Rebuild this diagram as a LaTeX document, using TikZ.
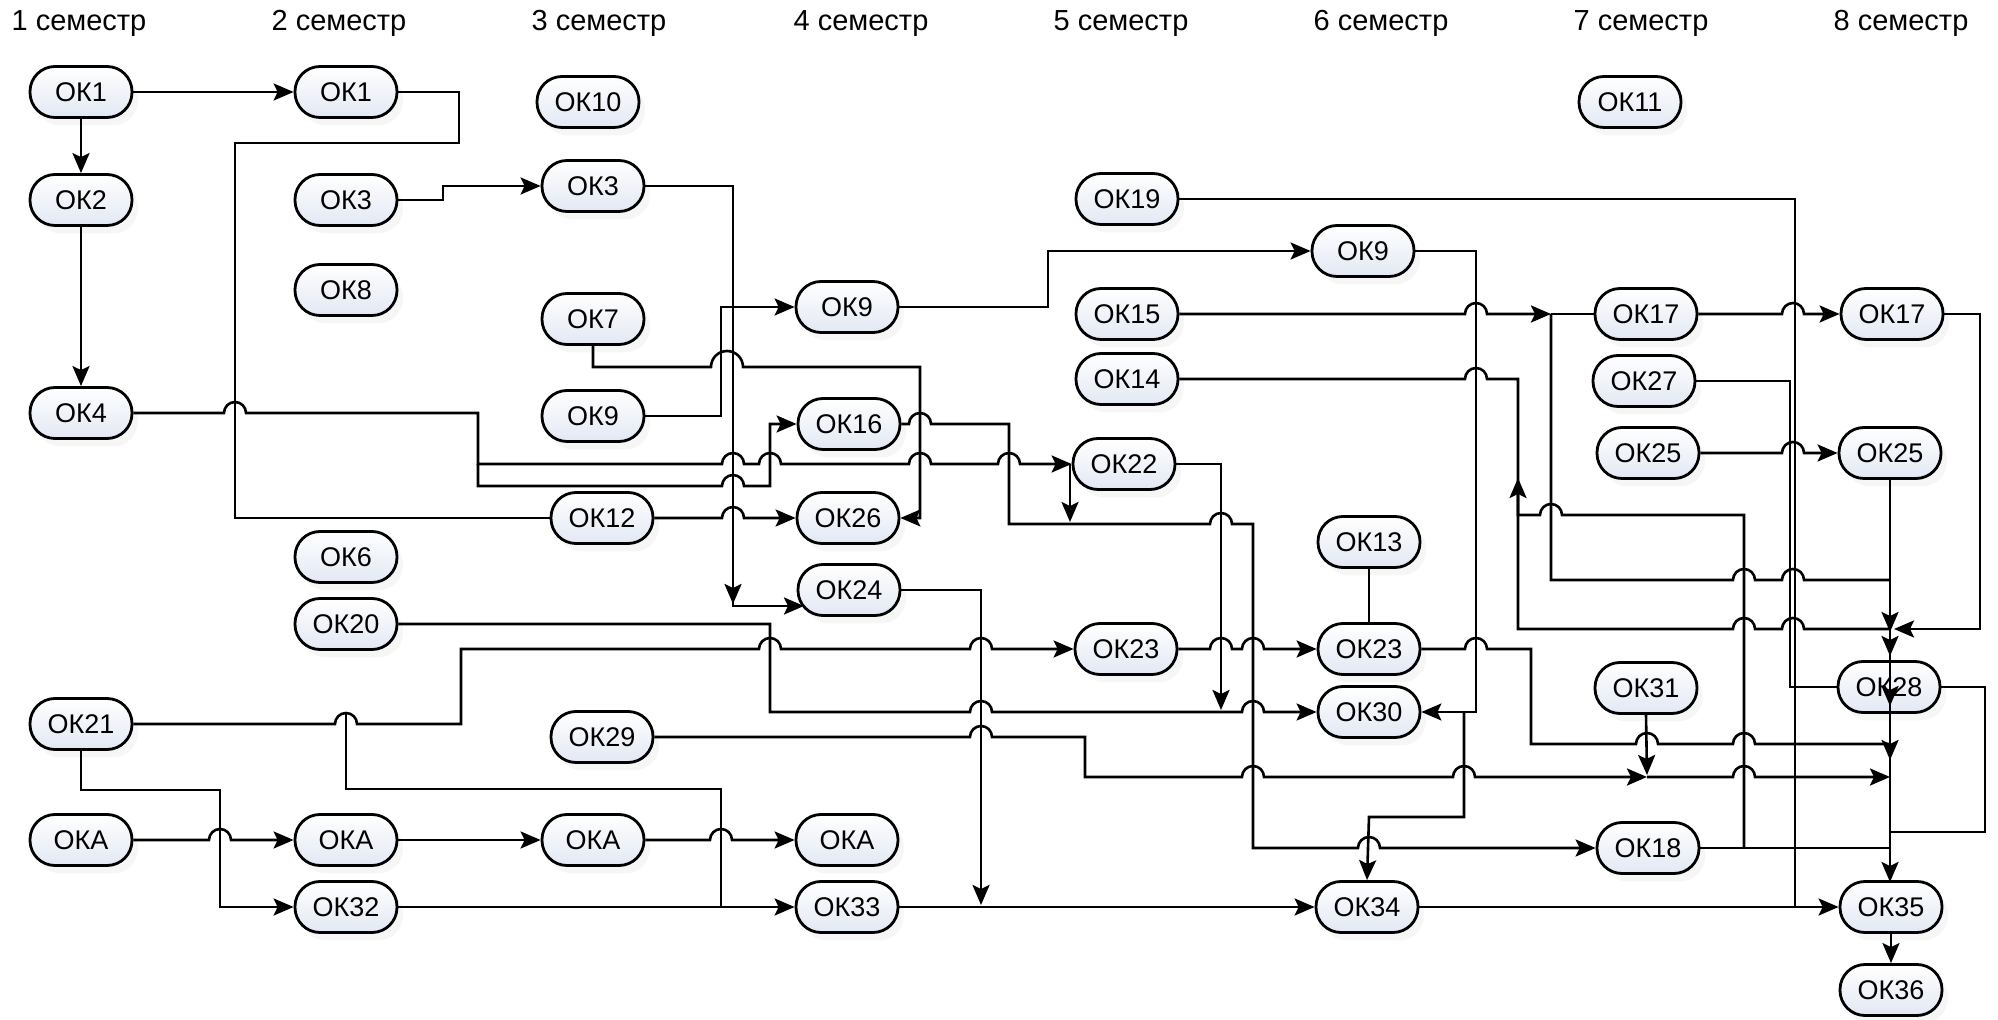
\documentclass[tikz,border=0pt]{standalone}
\usepackage{fontspec}
\setmainfont{Liberation Sans}
\usetikzlibrary{arrows.meta,shadows}
\definecolor{nodeblue}{RGB}{226,232,243}
\begin{document}
\begin{tikzpicture}[x=0.5pt,y=-0.5pt,
  ok/.style={draw=black,line width=1.4pt,rounded corners=12.5pt,minimum width=51pt,minimum height=25.5pt,inner sep=0pt,
    top color=white,bottom color=nodeblue,font=\fontsize{13.5}{14}\selectfont,
    drop shadow={opacity=0.07,shadow xshift=3pt,shadow yshift=-4pt}},
  sem/.style={anchor=base,font=\fontsize{14.5}{16}\selectfont},
  ln/.style={line width=1.3pt},
  arr/.style={-{Stealth[length=10pt,width=8.5pt,inset=2pt]}},
  rarr/.style={{Stealth[length=10pt,width=8.5pt,inset=2pt]}-},
  hop/.style args={#1/#2}{insert path={-- ({#1-11},#2) arc[start angle=180,end angle=360,radius=11]}},
  hopw/.style args={#1/#2}{insert path={-- ({#1-16},#2) arc[start angle=180,end angle=360,radius=16]}}]
\fill[white] (0,0) rectangle (1998,1020);
\useasboundingbox (0,0) rectangle (1998,1020);
% headings
\node[sem] (s1) at (79,31) {1 семестр};
\node[sem] (s2) at (339,31) {2 семестр};
\node[sem] (s3) at (599,31) {3 семестр};
\node[sem] (s4) at (861,31) {4 семестр};
\node[sem] (s5) at (1121,31) {5 семестр};
\node[sem] (s6) at (1381,31) {6 семестр};
\node[sem] (s7) at (1641,31) {7 семестр};
\node[sem] (s8) at (1901,31) {8 семестр};
% nodes
\node[ok] (a1) at (81,92) {ОК1};
\node[ok] (a2) at (81,200) {ОК2};
\node[ok] (a4) at (81,413) {ОК4};
\node[ok] (a21) at (81,724) {ОК21};
\node[ok] (aA) at (81,840) {ОКА};
\node[ok] (b1) at (346,92) {ОК1};
\node[ok] (b3) at (346,200) {ОК3};
\node[ok] (b8) at (346,290) {ОК8};
\node[ok] (b6) at (346,557) {ОК6};
\node[ok] (b20) at (346,624) {ОК20};
\node[ok] (bA) at (346,840) {ОКА};
\node[ok] (b32) at (346,907) {ОК32};
\node[ok] (c10) at (588,102) {ОК10};
\node[ok] (c3) at (593,186) {ОК3};
\node[ok] (c7) at (593,319) {ОК7};
\node[ok] (c9) at (593,416) {ОК9};
\node[ok] (c12) at (602,518) {ОК12};
\node[ok] (c29) at (602,737) {ОК29};
\node[ok] (cA) at (593,840) {ОКА};
\node[ok] (d9) at (847,307) {ОК9};
\node[ok] (d16) at (849,424) {ОК16};
\node[ok] (d26) at (848,518) {ОК26};
\node[ok] (d24) at (849,590) {ОК24};
\node[ok] (dA) at (847,840) {ОКА};
\node[ok] (d33) at (847,907) {ОК33};
\node[ok] (e19) at (1127,199) {ОК19};
\node[ok] (e15) at (1127,314) {ОК15};
\node[ok] (e14) at (1127,379) {ОК14};
\node[ok] (e22) at (1124,464) {ОК22};
\node[ok] (e23) at (1126,649) {ОК23};
\node[ok] (f9) at (1363,251) {ОК9};
\node[ok] (f13) at (1369,542) {ОК13};
\node[ok] (f23) at (1369,649) {ОК23};
\node[ok] (f30) at (1369,712) {ОК30};
\node[ok] (f34) at (1367,907) {ОК34};
\node[ok] (g11) at (1630,102) {ОК11};
\node[ok] (g17) at (1646,314) {ОК17};
\node[ok] (g27) at (1644,381) {ОК27};
\node[ok] (g25) at (1648,453) {ОК25};
\node[ok] (g31) at (1646,688) {ОК31};
\node[ok] (g18) at (1648,848) {ОК18};
\node[ok] (h17) at (1892,314) {ОК17};
\node[ok] (h25) at (1890,453) {ОК25};
\node[ok] (h28) at (1889,687) {ОК28};
\node[ok] (h35) at (1891,907) {ОК35};
\node[ok] (h36) at (1891,990) {ОК36};
% connectors
\draw[ln,arr] (a1.east) -- (b1.west);
\draw[ln,arr] (a1.south) -- (a2.north);
\draw[ln,arr] (a2.south) -- (a4.north);
\draw[ln] (b1.east) -- (459,92) -- (459,143) -- (235,143) -- (235,518) -- (c12.west);
\draw[ln,arr] (b3.east) -- (443,200) -- (443,186) -- (c3.west);
\draw[ln,arr] (c3.east) -- (733,186) -- (733,606) -- (804,606);
\draw[ln,arr] (733,578) -- (733,604);
\draw[ln,arr] (c7.south) -- (593,367) [hopw=727/367] -- (920,367) -- (920,518) -- (d26.east);
\draw[ln,arr] (c9.east) -- (721,416) -- (721,307) -- (d9.west);
\draw[ln,arr] (a4.east) [hop=235/413] -- (478,413) -- (478,464) [hop=733/464] [hop=770/464] [hop=920/464] [hop=1009/464] -- (e22.west);
\draw[ln,arr] (1070,464) -- (1070,522);
\draw[ln,arr] (478,464) -- (478,486) [hop=733/486] -- (770,486) -- (770,424) -- (d16.west);
\draw[ln,arr] (c12.east) [hop=733/518] -- (d26.west);
\draw[ln,arr] (d9.east) -- (1048,307) -- (1048,251) -- (f9.west);
\draw[ln,arr] (f9.east) -- (1476,251) -- (1476,712) -- (f30.east);
\draw[ln,arr] (1464,712) -- (1464,817) -- (1369,817) -- (f34.north);
\draw[ln,arr] (d16.east) [hop=920/424] -- (1009,424) -- (1009,524) [hop=1221/524] -- (1253,524) -- (1253,848) [hop=1369/848] -- (g18.west);
\draw[ln,arr] (e15.east) [hop=1476/314] -- (1551,314);
\draw[ln] (1551,314) -- (g17.west);
\draw[ln,arr] (g17.east) [hop=1793/314] -- (h17.west);
\draw[ln,arr] (h17.east) -- (1980,314) -- (1980,629) -- (1894,629);
\draw[ln] (1551,314) -- (1551,580) [hop=1744/580] [hop=1793/580] -- (1890,580);
\draw[ln] (e14.east) [hop=1476/379] -- (1518,379) -- (1518,629) [hop=1744/629] [hop=1793/629] -- (1890,629);
\draw[ln,rarr] (1518,478) -- (1518,515) [hop=1551/515] -- (1744,515) -- (1744,848);
\draw[ln,arr] (g25.east) [hop=1793/453] -- (h25.west);
\draw[ln,arr] (h25.south) -- (1890,882);
\foreach \yy in {632,656,706,760} \draw[ln,arr] (1890,\yy-24) -- (1890,\yy);
\draw[ln] (e19.east) -- (1795,199) -- (1795,907);
\draw[ln] (g27.east) -- (1790,381) -- (1790,687) -- (h28.west);
\draw[ln] (h28.east) -- (1985,687) -- (1985,832) -- (1890,832);
\draw[ln] (f23.east) [hop=1476/649] -- (1531,649) -- (1531,744) [hop=1647/744] [hop=1744/744] -- (1890,744);
\draw[ln,arr] (c29.east) [hop=981/737] -- (1085,737) -- (1085,777) [hop=1253/777] [hop=1464/777] -- (1647,777);
\draw[ln,arr] (1647,777) [hop=1744/777] -- (1890,777);
\draw[ln,arr] (g31.south) -- (1647,775);
\draw[ln,arr] (d24.east) -- (981,590) -- (981,905);
\draw[ln,arr] (b20.east) -- (770,624) -- (770,712) [hop=981/712] [hop=1253/712] -- (f30.west);
\draw[ln,arr] (e22.east) -- (1221,464) -- (1221,710);
\draw[ln,arr] (a21.east) [hop=346/724] -- (461,724) -- (461,649) [hop=770/649] [hop=981/649] -- (e23.west);
\draw[ln,arr] (e23.east) [hop=1221/649] [hop=1253/649] -- (f23.west);
\draw[ln] (f13.south) -- (f23.north);
\draw[ln,arr] (a21.south) -- (81,790) -- (220,790) -- (220,907) -- (b32.west);
\draw[ln,arr] (aA.east) [hop=220/840] -- (bA.west);
\draw[ln,arr] (bA.east) -- (cA.west);
\draw[ln,arr] (cA.east) [hop=721/840] -- (dA.west);
\draw[ln,arr] (b32.east) -- (d33.west);
\draw[ln] (346,713) -- (346,789) -- (721,789) -- (721,907);
\draw[ln,arr] (d33.east) -- (f34.west);
\draw[ln,arr] (f34.east) -- (h35.west);
\draw[ln,arr] (h35.south) -- (h36.north);
\draw[ln] (g18.east) -- (1890,848);
\end{tikzpicture}
\end{document}
